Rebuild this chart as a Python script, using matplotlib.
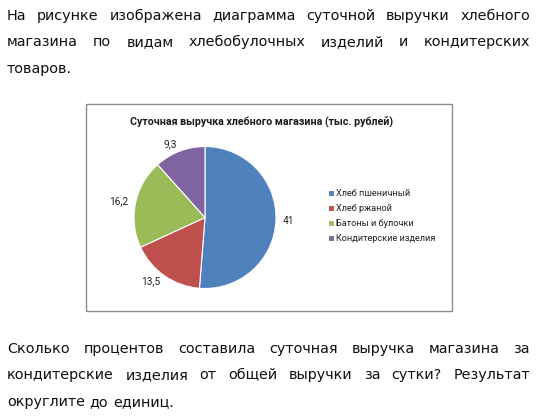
import matplotlib
matplotlib.use("Agg")
import matplotlib.pyplot as plt
from matplotlib.patches import Rectangle

# ---- data ----
categories = ['Хлеб пшеничный', 'Хлеб ржаной', 'Батоны и булочки', 'Кондитерские изделия']
values = [41, 13.5, 16.2, 9.3]
value_labels = ['41', '13,5', '16,2', '9,3']
colors = ['#4F81BD', '#C0504D', '#9BBB59', '#8064A2']
chart_title = 'Суточная выручка хлебного магазина (тыс. рублей)'
top_lines = [
    'На рисунке изображена диаграмма суточной выручки хлебного',
    'магазина по видам хлебобулочных изделий и кондитерских',
    'товаров.',
]
bottom_lines = [
    'Сколько процентов составила суточная выручка магазина за',
    'кондитерские изделия от общей выручки за сутки? Результат',
    'округлите до единиц.',
]

W, H = 538, 419
fig = plt.figure(figsize=(W / 100, H / 100), dpi=100)
fig.patch.set_facecolor('white')


def fx(x):
    return x / W


def fy(y):
    return 1 - y / H


renderer = fig.canvas.get_renderer()
TEXT_FONT = dict(family='DejaVu Sans', fontsize=10.4, color='#111111')


def draw_line(words_line, y, x0, x1, justify):
    words = words_line.split(' ')
    texts = []
    widths = []
    for w in words:
        t = fig.text(0, fy(y), w, va='center', ha='left', **TEXT_FONT)
        bb = t.get_window_extent(renderer=renderer)
        texts.append(t)
        widths.append(bb.width)
    sp = fig.text(0, 0, 'a a', **TEXT_FONT)
    sw = sp.get_window_extent(renderer=renderer).width
    sp2 = fig.text(0, 0, 'aa', **TEXT_FONT)
    sw -= sp2.get_window_extent(renderer=renderer).width
    sp.remove(); sp2.remove()
    if justify and len(words) > 1:
        gap = (x1 - x0 - sum(widths)) / (len(words) - 1)
    else:
        gap = sw
    x = x0
    for t, wd in zip(texts, widths):
        t.set_x(fx(x))
        x += wd + gap


X0, X1 = 7, 530
for i, line in enumerate(top_lines):
    draw_line(line, 16 + 26.3 * i, X0, X1, i < len(top_lines) - 1)
for i, line in enumerate(bottom_lines):
    draw_line(line, 349 + 26.3 * i, X0, X1, i < len(bottom_lines) - 1)

# chart frame
fig.patches.append(Rectangle((fx(86), fy(311)), fx(452) - fx(86), fy(104) - fy(311),
                             transform=fig.transFigure, facecolor='none',
                             edgecolor='#8c8c8c', linewidth=1.0, zorder=-1))

fig.text(fx(262), fy(122), chart_title, ha='center', va='center',
         family='Roboto', fontweight='bold', fontsize=7.7, color='#1a1a1a')

# pie
cx, cy, r = 205, 217.5, 71
ax = fig.add_axes([fx(cx - r), fy(cy + r), fx(2 * r), fy(cy - r) - fy(cy + r)])
ax.set_zorder(2)
wedges, texts = ax.pie(values, labels=value_labels, colors=colors, startangle=90,
                       counterclock=False, labeldistance=1.1,
                       wedgeprops=dict(edgecolor='white', linewidth=0.8),
                       textprops=dict(family='Roboto', fontsize=7.3, color='#222222'))
ax.set_xlim(-1, 1)
ax.set_ylim(-1, 1)
ax.set_aspect('equal')
ax.axis('off')

leg = fig.legend(wedges, categories, loc='upper left',
                 bbox_to_anchor=(fx(328), fy(189)), frameon=False,
                 prop=dict(family='Roboto', size=6.6),
                 handlelength=0.6, handleheight=0.6, handletextpad=0.3,
                 labelspacing=0.65, borderpad=0, borderaxespad=0)
for t in leg.get_texts():
    t.set_color('#222222')

fig.savefig('out.png', dpi=100, facecolor='white')
